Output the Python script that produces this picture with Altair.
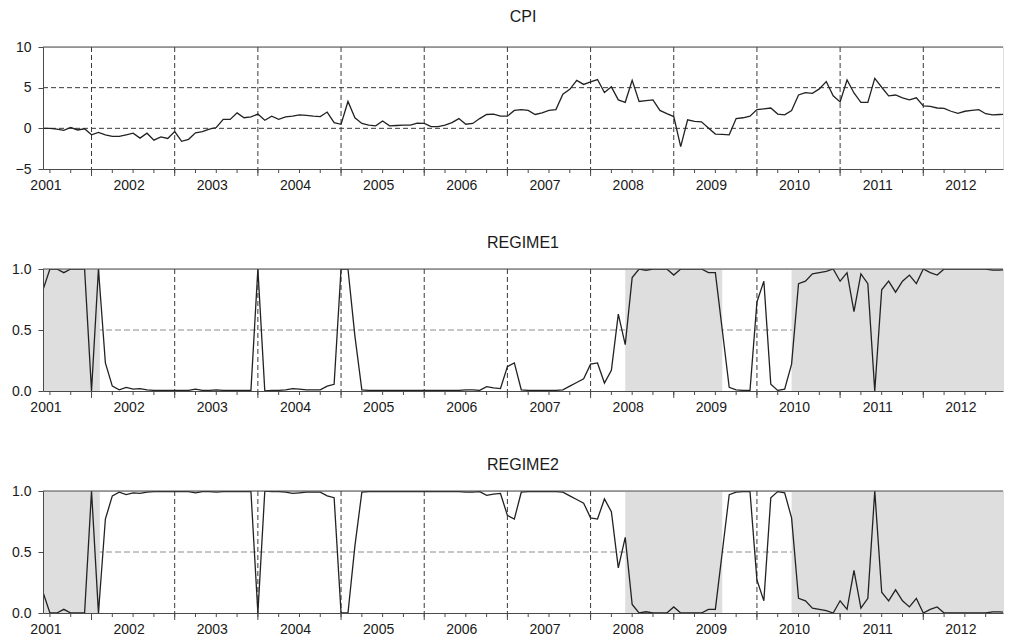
import altair as alt
import pandas as pd

# ---------------- data (monthly; index -1 = 2000M12, index 0 = 2001M01) ----------------
FIRST_INDEX = -1

CPI = [
    0.0, 0.0, -0.1, -0.25, 0.1, -0.2, -0.05, -0.8, -0.5, -0.8, -1.0, -1.0, -0.8,
    -0.6, -1.2, -0.6, -1.45, -1.05, -1.25, -0.4, -1.6, -1.35, -0.55, -0.4, -0.1,
    0.1, 1.1, 1.1, 1.9, 1.3, 1.4, 1.75, 1.0, 1.5, 1.1, 1.4, 1.5,
    1.65, 1.6, 1.5, 1.45, 2.0, 0.7, 0.5, 3.3, 1.3, 0.6, 0.4, 0.3,
    0.9, 0.3, 0.35, 0.4, 0.4, 0.65, 0.6, 0.2, 0.2, 0.4, 0.7, 1.2,
    0.5, 0.6, 1.2, 1.7, 1.75, 1.5, 1.5, 2.2, 2.3, 2.2, 1.7, 1.9,
    2.2, 2.3, 4.2, 4.8, 5.9, 5.4, 5.7, 6.0, 4.4, 5.1, 3.5, 3.2,
    5.9, 3.3, 3.4, 3.5, 2.2, 1.8, 1.45, -2.25, 1.05, 0.85, 0.8, 0.05,
    -0.7, -0.75, -0.8, 1.2, 1.3, 1.5, 2.3, 2.4, 2.5, 1.75, 1.65, 2.2,
    4.1, 4.4, 4.3, 4.85, 5.75, 4.0, 3.25, 5.95, 4.35, 3.2, 3.2, 6.15,
    5.05, 4.0, 4.1, 3.75, 3.5, 3.75, 2.75, 2.7, 2.5, 2.45, 2.1, 1.85,
    2.1, 2.2, 2.3, 1.8, 1.65, 1.7, 1.75,
]

REGIME1 = [
    0.83, 1.0, 1.0, 0.97, 1.0, 1.0, 1.0, 0.0, 1.0, 0.23, 0.04, 0.01, 0.03,
    0.015, 0.02, 0.01, 0.005, 0.005, 0.005, 0.005, 0.005, 0.005, 0.015, 0.005, 0.005,
    0.01, 0.005, 0.005, 0.005, 0.005, 0.005, 1.0, 0.0, 0.005, 0.005, 0.01, 0.02,
    0.015, 0.01, 0.01, 0.01, 0.04, 0.055, 1.0, 1.0, 0.45, 0.01, 0.005, 0.005,
    0.005, 0.005, 0.005, 0.005, 0.005, 0.005, 0.005, 0.005, 0.005, 0.005, 0.005, 0.005,
    0.01, 0.01, 0.005, 0.035, 0.025, 0.02, 0.2, 0.23, 0.01, 0.005, 0.005, 0.005,
    0.005, 0.005, 0.01, 0.04, 0.07, 0.1, 0.22, 0.23, 0.065, 0.17, 0.63, 0.38,
    0.93, 1.0, 0.99, 1.0, 1.0, 1.0, 0.95, 1.0, 1.0, 1.0, 1.0, 0.97,
    0.97, 0.5, 0.03, 0.01, 0.005, 0.005, 0.73, 0.9, 0.055, 0.005, 0.015, 0.22,
    0.88, 0.9, 0.96, 0.97, 0.98, 1.0, 0.9, 0.97, 0.65, 0.96, 0.88, 0.0,
    0.83, 0.9, 0.81, 0.9, 0.95, 0.88, 1.0, 0.97, 0.95, 1.0, 1.0, 1.0,
    1.0, 1.0, 1.0, 1.0, 0.99, 0.99, 0.995,
]

REGIME2 = [
    0.17, 0.0, 0.0, 0.03, 0.0, 0.0, 0.0, 1.0, 0.0, 0.77, 0.96, 0.99, 0.97,
    0.985, 0.98, 0.99, 0.995, 0.995, 0.995, 0.995, 0.995, 0.995, 0.985, 0.995, 0.995,
    0.99, 0.995, 0.995, 0.995, 0.995, 0.995, 0.0, 1.0, 0.995, 0.995, 0.99, 0.98,
    0.985, 0.99, 0.99, 0.99, 0.96, 0.945, 0.0, 0.0, 0.55, 0.99, 0.995, 0.995,
    0.995, 0.995, 0.995, 0.995, 0.995, 0.995, 0.995, 0.995, 0.995, 0.995, 0.995, 0.995,
    0.99, 0.99, 0.995, 0.965, 0.975, 0.98, 0.8, 0.77, 0.99, 0.995, 0.995, 0.995,
    0.995, 0.995, 0.99, 0.96, 0.93, 0.9, 0.78, 0.77, 0.935, 0.83, 0.37, 0.62,
    0.07, 0.0, 0.01, 0.0, 0.0, 0.0, 0.05, 0.0, 0.0, 0.0, 0.0, 0.03,
    0.03, 0.5, 0.97, 0.99, 0.995, 0.995, 0.27, 0.1, 0.945, 0.995, 0.985, 0.78,
    0.12, 0.1, 0.04, 0.03, 0.02, 0.0, 0.1, 0.03, 0.35, 0.04, 0.12, 1.0,
    0.17, 0.1, 0.19, 0.1, 0.05, 0.12, 0.0, 0.03, 0.05, 0.0, 0.0, 0.0,
    0.0, 0.0, 0.0, 0.0, 0.01, 0.01, 0.005,
]

YEAR_LABELS = ["2001", "2002", "2003", "2004", "2005", "2006",
               "2007", "2008", "2009", "2010", "2011", "2012"]
YEAR_LABEL_POS = [0, 12, 24, 36, 48, 60, 72, 84, 96, 108, 120, 132]
QUARTER_TICKS = list(range(0, 136, 3))
MID_YEAR_LINES = [6, 18, 30, 42, 54, 66, 78, 90, 102, 114, 126]
SHADE_FROM = [-1, 83, 107]
SHADE_TO = [7.2, 97, 138]
CPI_TICKS = [-5, 0, 5, 10]
CPI_GRID = [0, 5]
REG_TICKS = [0.0, 0.5, 1.0]
REG_GRID = [0.5]
X_DOMAIN = [-1, 137.5]

# ---------------- style ----------------
W, H = 960, 122
FONT = "Liberation Sans"
TXT = "#1a1a1a"
AX = "#4a4a4a"
LINE = "#222222"
SHADE = "#dedede"

df = pd.DataFrame({
    "t": list(range(FIRST_INDEX, FIRST_INDEX + len(CPI))),
    "CPI": CPI, "REGIME1": REGIME1, "REGIME2": REGIME2,
})
vgrid_df = pd.DataFrame({"t": MID_YEAR_LINES})
qtick_df = pd.DataFrame({"t": QUARTER_TICKS})
shade_df = pd.DataFrame({"s": SHADE_FROM, "e": SHADE_TO})

label_expr = "{}[indexof({}, datum.value)]".format(
    "[" + ",".join("'%s'" % s for s in YEAR_LABELS) + "]",
    "[" + ",".join(str(p) for p in YEAR_LABEL_POS) + "]",
)

xs = alt.Scale(domain=X_DOMAIN, nice=False, zero=False)
xaxis = alt.Axis(values=YEAR_LABEL_POS, labelExpr=label_expr, ticks=False, grid=False,
                 domainColor=AX, domainWidth=1, labelOffset=-4.5, labelPadding=9,
                 labelFont=FONT, labelFontSize=14, labelColor=TXT, labelOverlap=False,
                 labelFlush=False, title=None, zindex=1)


def panel(col, title, ydomain, yticks, ygrid, yfmt, hcolor, hdash, shaded, title_offset):
    ys = alt.Scale(domain=ydomain, nice=False, zero=False)
    yaxis = alt.Axis(values=yticks, format=yfmt, grid=False, tickSize=5, tickColor=AX,
                     domainColor=AX, domainWidth=1, labelPadding=7, labelFont=FONT,
                     labelFontSize=14, labelColor=TXT, title=None, zindex=1)
    x_enc = alt.X("t:Q", scale=xs, axis=xaxis)

    layers = []
    layers.append(alt.Chart(vgrid_df).mark_rule(color="#3a3a3a", strokeDash=[5, 3], strokeWidth=1)
                  .encode(x=x_enc, y=alt.value(0), y2=alt.value(H)))
    layers.append(alt.Chart(pd.DataFrame({"v": ygrid})).mark_rule(color=hcolor, strokeDash=hdash, strokeWidth=1)
                  .encode(y=alt.Y("v:Q", scale=ys, axis=yaxis), x=alt.value(0), x2=alt.value(W)))
    if shaded:
        layers.append(alt.Chart(shade_df).mark_rect(color=SHADE, opacity=1, clip=True)
                      .encode(x=alt.X("s:Q", scale=xs, axis=xaxis), x2="e:Q",
                              y=alt.value(0), y2=alt.value(H)))
    layers.append(alt.Chart(df).mark_line(color=LINE, strokeWidth=1.3, clip=True)
                  .encode(x=x_enc, y=alt.Y(f"{col}:Q", scale=ys, axis=yaxis)))
    # outside tick marks on the time axis
    layers.append(alt.Chart(qtick_df).mark_rule(color=AX, strokeWidth=1)
                  .encode(x=x_enc, y=alt.value(H), y2=alt.value(H + 4)))
    layers.append(alt.Chart(vgrid_df).mark_rule(color=AX, strokeWidth=1)
                  .encode(x=x_enc, y=alt.value(H), y2=alt.value(H + 7)))
    # top frame
    layers.append(alt.Chart(pd.DataFrame({"a": [0]})).mark_rule(color=AX, strokeWidth=1)
                  .encode(x=alt.value(0), x2=alt.value(W), y=alt.value(0)))

    return alt.layer(*layers).properties(
        width=W, height=H,
        title=alt.TitleParams(text=title, fontSize=16, font=FONT, fontWeight="normal",
                              color=TXT, anchor="middle", frame="group", offset=title_offset),
    )


p1 = panel("CPI", "CPI", [-5, 10], CPI_TICKS, CPI_GRID, "d", "#3a3a3a", [5, 3], False, 15)
p2 = panel("REGIME1", "REGIME1", [0, 1], REG_TICKS, REG_GRID, ".1f", "#8c8c8c", [6, 3], True, 11)
p3 = panel("REGIME2", "REGIME2", [0, 1], REG_TICKS, REG_GRID, ".1f", "#8c8c8c", [6, 3], True, 11)

chart = alt.vconcat(p1, p2, p3, spacing=41).properties(
    padding={"left": 3, "top": 0, "right": 0, "bottom": 0}
).configure_view(stroke=None).configure(background="white")

chart.save("out.html", embed_options={"renderer": "svg", "actions": False})
